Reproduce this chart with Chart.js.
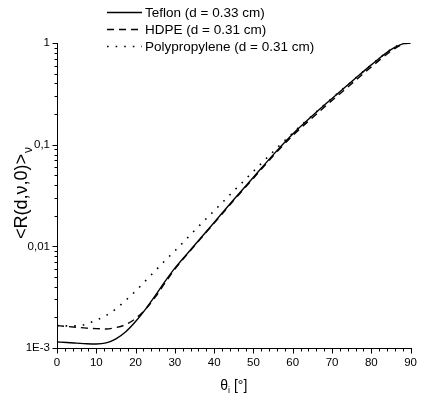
<!DOCTYPE html>
<html>
<head>
<meta charset="utf-8">
<script src="https://cdn.jsdelivr.net/npm/chart.js@4"></script>
<style>
html, body { margin: 0; padding: 0; background: #fff; }
</style>
</head>
<body>
<canvas id="reflChart" width="425" height="402"></canvas>
<script>
// angle of incidence, degrees
const angles = [0, 2.5, 5, 7.5, 10, 12.5, 15, 17.5, 20, 22.5, 25, 27.5, 30, 35, 40, 45, 50, 55, 60, 65, 70, 75, 80, 85, 88, 90];

// <R(d,v,0)>v
const teflon = [0.001146, 0.001132, 0.001117, 0.001102, 0.001096, 0.001122, 0.00123, 0.001445, 0.00182, 0.0024, 0.00327, 0.00452, 0.0061,
  0.01023, 0.01718, 0.02884, 0.04786, 0.0794, 0.1274, 0.1928, 0.2851, 0.417, 0.6095, 0.861, 0.982, 1.0];
const hdpe = [0.00166, 0.00163, 0.0016, 0.00157, 0.00155, 0.00154, 0.00159, 0.0017, 0.00195, 0.0024, 0.00316, 0.00437, 0.00596,
  0.01012, 0.0169, 0.02831, 0.04677, 0.07727, 0.123, 0.1841, 0.2723, 0.398, 0.582, 0.832, 0.973, 1.0];
const polyprop = [0.00166, 0.00165, 0.00165, 0.00172, 0.00188, 0.00209, 0.00243, 0.00295, 0.00363, 0.00457, 0.00575, 0.00724, 0.00902,
  0.01429, 0.02239, 0.03508, 0.0547, 0.0851, 0.1303, 0.1941, 0.2864, 0.419, 0.612, 0.865, 0.984, 1.0];

const seriesNames = ["Teflon (d = 0.33 cm)", "HDPE (d = 0.31 cm)", "Polypropylene (d = 0.31 cm)"];

const xTicks = [0, 10, 20, 30, 40, 50, 60, 70, 80, 90];
const yTicks = [0.001, 0.01, 0.1, 1];
const yTickLabels = ["1E-3", "0,01", "0,1", "1"];

const FONT = "'Liberation Sans', Arial, sans-serif";
Chart.defaults.font.family = FONT;
Chart.defaults.color = "#000";

function points(vals) {
    return angles.map((a, i) => ({ x: a, y: vals[i] }));
}

// ticks, axis lines, legend and axis titles
const axisDecor = {
    id: "axisDecor",
    afterDraw(chart) {
        const ctx = chart.ctx;
        const xs = chart.scales.x;
        const ys = chart.scales.y;
        const a = chart.chartArea;
        const left = Math.round(a.left) + 0.5;
        const bottom = Math.round(a.bottom) + 0.5;

        ctx.save();
        ctx.strokeStyle = "#000";
        ctx.lineWidth = 1;
        ctx.setLineDash([]);
        ctx.beginPath();
        ctx.moveTo(left, Math.round(a.top));
        ctx.lineTo(left, bottom);
        ctx.lineTo(Math.round(a.right) + 1, bottom);

        // x ticks, minor every 2 deg
        for (let v = 0; v <= 90; v += 2) {
            const px = Math.round(xs.getPixelForValue(v)) + 0.5;
            const len = v % 10 === 0 ? 5 : 3;
            ctx.moveTo(px, bottom);
            ctx.lineTo(px, bottom + len);
        }
        // y ticks, decades + 2..9
        for (let d = 0; d < yTicks.length; d++) {
            const py = Math.round(ys.getPixelForValue(yTicks[d])) + 0.5;
            ctx.moveTo(left, py);
            ctx.lineTo(left - 5, py);
            if (d < yTicks.length - 1) {
                for (let k = 2; k <= 9; k++) {
                    const pm = Math.round(ys.getPixelForValue(k * yTicks[d])) + 0.5;
                    ctx.moveTo(left, pm);
                    ctx.lineTo(left - 3, pm);
                }
            }
        }
        ctx.stroke();

        // legend
        ctx.font = "13.5px " + FONT;
        ctx.textBaseline = "middle";
        ctx.textAlign = "left";
        chart.data.datasets.forEach((ds, i) => {
            const y = 12 + i * 17;
            ctx.beginPath();
            ctx.lineWidth = ds.borderWidth;
            ctx.setLineDash(ds.borderDash || []);
            ctx.moveTo(107, y + 0.5);
            ctx.lineTo(142, y + 0.5);
            ctx.stroke();
            ctx.fillStyle = "#000";
            ctx.fillText(seriesNames[i], 145, y + 1);
        });
        ctx.setLineDash([]);

        // y title with subscript
        ctx.save();
        ctx.translate(22, (a.top + a.bottom) / 2 - 2);
        ctx.rotate(-Math.PI / 2);
        ctx.font = "18px " + FONT;
        const main = "<R(d,\u03BD,0)>";
        const w1 = ctx.measureText(main).width;
        ctx.font = "12px " + FONT;
        const w2 = ctx.measureText("\u03BD").width;
        const x0 = -(w1 + w2) / 2;
        ctx.font = "18px " + FONT;
        ctx.fillText(main, x0, 0);
        ctx.font = "12px " + FONT;
        ctx.fillText("\u03BD", x0 + w1 + 1, 7);
        ctx.restore();

        // x title
        ctx.font = "14px " + FONT;
        const t1 = "\u03B8";
        const t3 = " [\u00B0]";
        const wa = ctx.measureText(t1).width;
        const wc = ctx.measureText(t3).width;
        ctx.font = "9px " + FONT;
        const wb = ctx.measureText("i").width;
        let xt = (a.left + a.right) / 2 - (wa + wb + wc) / 2;
        ctx.font = "14px " + FONT;
        ctx.fillText(t1, xt, 386);
        ctx.font = "9px " + FONT;
        ctx.fillText("i", xt + wa, 391);
        ctx.font = "14px " + FONT;
        ctx.fillText(t3, xt + wa + wb, 386);

        ctx.restore();
    }
};

new Chart(document.getElementById("reflChart"), {
    type: "line",
    data: {
        datasets: [{
            label: seriesNames[0],
            data: points(teflon),
            borderColor: "#000",
            borderWidth: 1.4,
            borderDash: []
        }, {
            label: seriesNames[1],
            data: points(hdpe),
            borderColor: "#000",
            borderWidth: 1.4,
            borderDash: [7, 5]
        }, {
            label: seriesNames[2],
            data: points(polyprop),
            borderColor: "#000",
            borderWidth: 1.6,
            borderDash: [1.6, 7]
        }]
    },
    options: {
        responsive: false,
        animation: false,
        layout: { padding: { top: 43, right: 13, left: 0, bottom: 0 } },
        elements: {
            point: { radius: 0 },
            line: { cubicInterpolationMode: "monotone", fill: false }
        },
        plugins: {
            legend: { display: false },
            tooltip: { enabled: false }
        },
        scales: {
            x: {
                type: "linear",
                min: 0,
                max: 90,
                afterBuildTicks: (s) => { s.ticks = xTicks.map(v => ({ value: v })); },
                afterFit: (s) => { s.height = 54; },
                grid: { display: false, drawTicks: false },
                border: { display: false },
                ticks: { autoSkip: false, maxRotation: 0, padding: 8, font: { size: 11.5 }, color: "#000" }
            },
            y: {
                type: "logarithmic",
                min: 0.001,
                max: 1,
                afterBuildTicks: (s) => { s.ticks = yTicks.map(v => ({ value: v })); },
                afterFit: (s) => { s.width = 57; },
                grid: { display: false, drawTicks: false },
                border: { display: false },
                ticks: {
                    autoSkip: false,
                    padding: 7,
                    font: { size: 11.5 },
                    color: "#000",
                    callback: (v) => yTickLabels[yTicks.indexOf(v)]
                }
            }
        }
    },
    plugins: [axisDecor]
});
</script>
</body>
</html>
